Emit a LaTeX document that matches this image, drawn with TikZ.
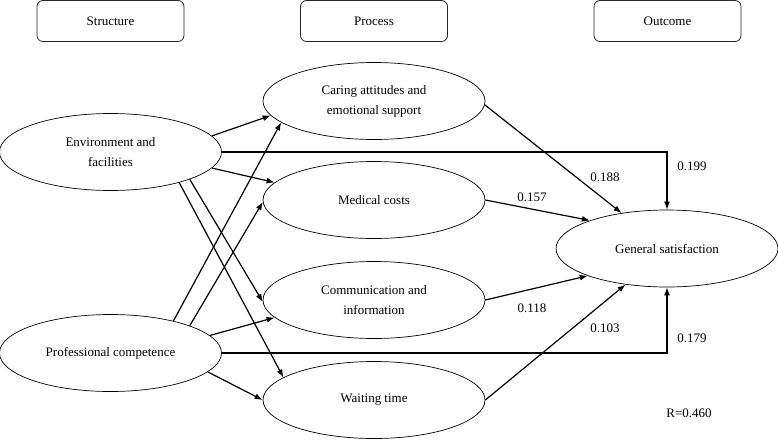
\documentclass[tikz,border=0pt]{standalone}
\usepackage{fontspec}
\setmainfont{Liberation Serif}
\usetikzlibrary{shapes.geometric,arrows.meta}
\begin{document}
\begin{tikzpicture}[x=1pt,y=-1pt,
  every node/.style={font=\fontsize{13}{20}\selectfont},
  hbox/.style={draw=black!85,line width=0.8pt,rounded corners=6pt,minimum width=147pt,minimum height=41pt,inner sep=0pt},
  ell/.style={draw,ellipse,line width=0.7pt,minimum width=222pt,minimum height=77pt,inner sep=0pt,align=center},
  arr/.style={line width=1.2pt,-{Latex[length=8pt,width=6pt]}},
  lab/.style={inner sep=0pt}]
\useasboundingbox (0,0) rectangle (778,439);
\node[hbox] (hs) at (110.5,21) {Structure};
\node[hbox] (hp) at (374,21) {Process};
\node[hbox] (ho) at (667.5,21) {Outcome};

\node[ell] (env) at (110.5,152) {Environment and\\facilities};
\node[ell] (pro) at (110.5,353) {Professional competence};
\node[ell] (car) at (374,101) {Caring attitudes and\\emotional support};
\node[ell] (med) at (374,200) {Medical costs};
\node[ell] (com) at (374,300) {Communication and\\information};
\node[ell] (wai) at (374,400) {Waiting time};
\node[ell] (gen) at (667,248.5) {General satisfaction};

\draw[arr] (env.9.6) -- (car.188);
\draw[arr] (env.-9) -- (med.170);
\draw[arr] (env.-19.7) -- (com.181);
\draw[arr] (env.-24.8) -- (wai.166.8);
\draw[arr] (pro.27.6) -- (car.193.7);
\draw[arr] (pro.19.1) -- (med.181.5);
\draw[arr] (pro.10.5) -- (com.190);
\draw[arr] (pro.-11.7) -- (wai.180);
\draw[arr] (env.east) -| (gen.north);
\draw[arr] (pro.east) -| (gen.south);
\draw[arr] (car.-2) -- (gen.142.9);
\draw[arr] (med.east) -- (gen.160.7);
\draw[arr] (com.east) -- (gen.199.3);
\draw[arr] (wai.east) -- (gen.221.3);

\node[lab] (l1) at (692,166) {0.199};
\node[lab] (l2) at (605,177) {0.188};
\node[lab] (l3) at (532,197) {0.157};
\node[lab] (l4) at (532,308) {0.118};
\node[lab] (l5) at (605,328) {0.103};
\node[lab] (l6) at (692,338) {0.179};
\node[lab] (l7) at (689,413) {R=0.460};
\end{tikzpicture}
\end{document}
